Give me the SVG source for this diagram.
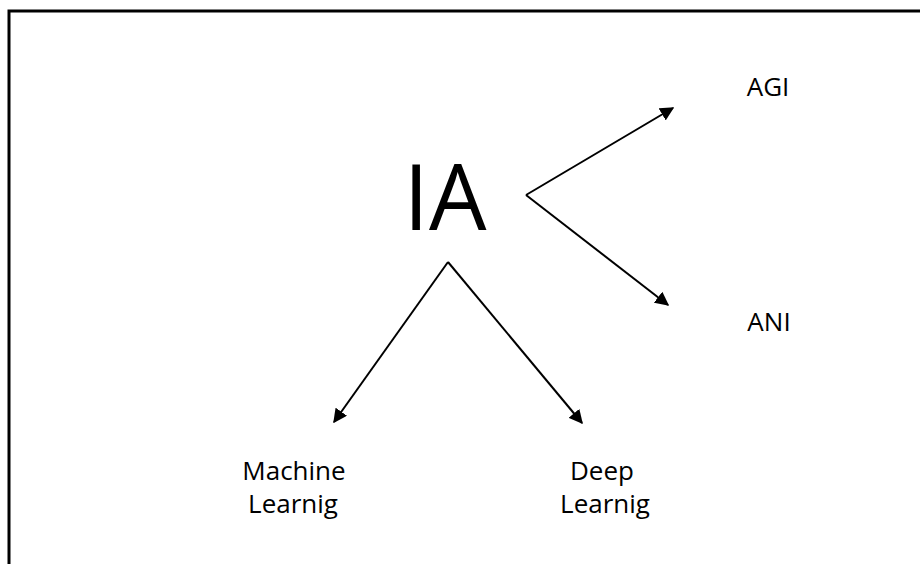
<svg xmlns="http://www.w3.org/2000/svg" width="920" height="564" viewBox="0 0 920 564">
  <style>
    .lbl { font-family: "Open Sans", "Noto Sans", sans-serif; font-size: 26px; fill: #000; text-anchor: middle; }
    .big { font-family: "Open Sans", "Noto Sans", sans-serif; font-size: 91px; fill: #000; text-anchor: middle; }
    .edge { stroke: #000; stroke-width: 2; fill: none; marker-end: url(#head); }
  </style>
  <defs>
    <marker id="head" viewBox="0 0 10 10" refX="9" refY="5" markerWidth="7" markerHeight="7" markerUnits="strokeWidth" orient="auto">
      <path d="M0,0 L10,5 L0,10 Z" fill="#000"/>
    </marker>
  </defs>
  <rect width="920" height="564" fill="#fff"/>
  <!-- frame: top and left edges only -->
  <path d="M9,564 V11 H920" stroke="#000" stroke-width="3" fill="none"/>

  <g id="connectors">
    <line class="edge" x1="526" y1="195" x2="673" y2="108"/>
    <line class="edge" x1="526" y1="195" x2="668" y2="305"/>
    <line class="edge" x1="448" y1="262" x2="334" y2="422"/>
    <line class="edge" x1="448" y1="262" x2="582" y2="423"/>
  </g>

  <g id="node-ia">
    <text class="big" x="445" y="230">IA</text>
  </g>
  <g id="node-agi">
    <text class="lbl" x="768" y="96">AGI</text>
  </g>
  <g id="node-ani">
    <text class="lbl" x="769" y="331">ANI</text>
  </g>
  <g id="node-ml">
    <text class="lbl" x="294" y="480">Machine</text>
    <text class="lbl" x="293" y="513">Learnig</text>
  </g>
  <g id="node-dl">
    <text class="lbl" x="602" y="480">Deep</text>
    <text class="lbl" x="605" y="513">Learnig</text>
  </g>
</svg>
